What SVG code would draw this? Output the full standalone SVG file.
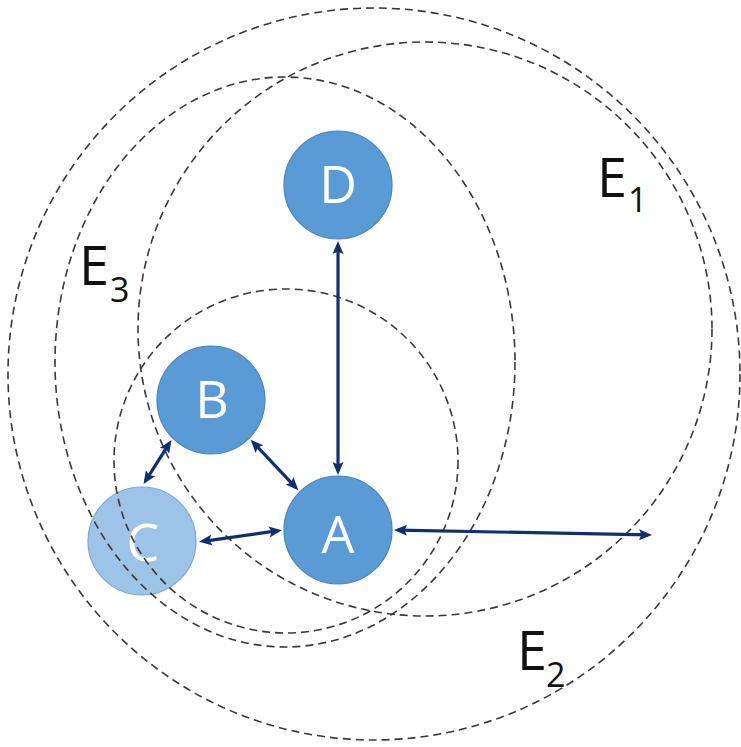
<svg xmlns="http://www.w3.org/2000/svg" width="741" height="747" viewBox="0 0 741 747">
<style>
.node{fill:#5b9bd5;stroke:#4a84be;stroke-width:1.2}
.light{fill:#9dc3e6;stroke:#7ea9d6;stroke-width:1.2}
.nl{font-family:"Open Sans","Liberation Sans",sans-serif;font-size:52px;fill:#ffffff;text-anchor:middle}
.set{fill:none;stroke:#383838;stroke-width:1.6;stroke-dasharray:8 5}
.lab{font-family:"Open Sans","Liberation Sans",sans-serif;font-size:54px;fill:#111111}
.sub{font-family:"Open Sans","Liberation Sans",sans-serif;font-size:34px;fill:#111111}
.edge{fill:none;stroke:#102f6f;stroke-width:3.2;marker-start:url(#ah);marker-end:url(#ah)}
</style>
<defs>
<marker id="ah" viewBox="0 0 13 11" refX="9" refY="5.5" markerWidth="13" markerHeight="11" markerUnits="userSpaceOnUse" orient="auto-start-reverse">
<path d="M0,0 L13,5.5 L0,11 L2.5,5.5 z" fill="#102f6f"/>
</marker>
</defs>
<rect width="741" height="747" fill="#ffffff"/>
<g id="nodes">
<g id="node-D"><circle class="node" cx="338" cy="185" r="54"/><text class="nl" x="338" y="203">D</text></g>
<g id="node-B"><circle class="node" cx="211" cy="400" r="54"/><text class="nl" x="212" y="418">B</text></g>
<g id="node-A"><circle class="node" cx="338" cy="530" r="54"/><text class="nl" x="338" y="553">A</text></g>
<g id="node-C"><circle class="light" cx="142" cy="541" r="54"/><text class="nl" x="143" y="561">C</text></g>
</g>
<g id="sets">
<g id="set-E2"><circle class="set" cx="374" cy="374" r="366"/><text class="lab" x="517" y="670">E</text><text class="sub" x="546" y="687">2</text></g>
<g id="set-E1"><circle class="set" cx="425" cy="329" r="287"/><text class="lab" x="597" y="197">E</text><text class="sub" x="628" y="212">1</text></g>
<g id="set-E3"><ellipse class="set" cx="285" cy="362" rx="230" ry="285"/><text class="lab" x="79" y="285">E</text><text class="sub" x="110" y="302">3</text></g>
<g id="set-inner"><circle class="set" cx="286" cy="461" r="172"/></g>
</g>
<g id="connectors">
<line class="edge" x1="338" y1="245" x2="338" y2="471"/>
<line class="edge" x1="253.4" y1="442.6" x2="295.6" y2="487.4"/>
<line class="edge" x1="169.3" y1="443.3" x2="145.7" y2="480.7"/>
<line class="edge" x1="203" y1="541.3" x2="278" y2="530.7"/>
<line class="edge" x1="398" y1="530.1" x2="648" y2="534.9"/>
</g>
</svg>
